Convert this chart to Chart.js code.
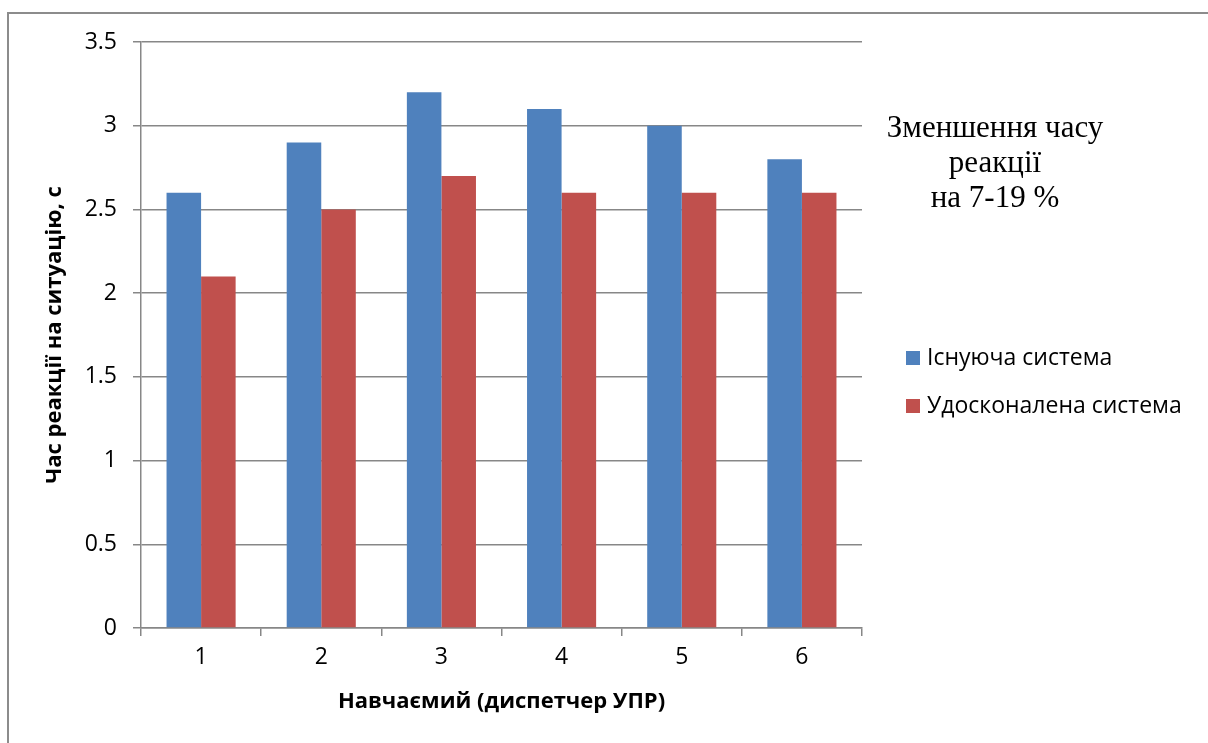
<!DOCTYPE html>
<html>
<head>
<meta charset="utf-8">
<script src="https://cdn.jsdelivr.net/npm/chart.js@4"></script>
<style>
  html, body { margin: 0; padding: 0; background: #fff; overflow: hidden; }
  #wrap { position: relative; width: 1208px; height: 743px; }
  #frame { position: absolute; left: 7px; top: 12px; width: 1300px; height: 900px; border: 2px solid #8c8c8c; box-sizing: border-box; pointer-events: none; }
  canvas { position: absolute; left: 0; top: 0; }
</style>
</head>
<body>
<div id="wrap">
  <div id="frame"></div>
  <canvas id="chart" width="1208" height="743"></canvas>
</div>
<script>
// Trainee numbers along the x axis
const trainees = ['1', '2', '3', '4', '5', '6'];
// Reaction time to a situation, seconds
const existingSystem = [2.6, 2.9, 3.2, 3.1, 3.0, 2.8];
const improvedSystem = [2.1, 2.5, 2.7, 2.6, 2.6, 2.6];
const seriesNames = ['Існуюча система', 'Удосконалена система'];
const noteLines = ['Зменшення часу', 'реакції', 'на 7-19 %'];

const sansFont = "'Open Sans', 'Noto Sans', sans-serif";
const gridGray = '#878787';

// Legend and side note drawn to the right of the plot
const sidePanel = {
  id: 'sidePanel',
  afterDraw(chart) {
    const ctx = chart.ctx;
    ctx.save();
    ctx.fillStyle = '#000';
    ctx.textAlign = 'center';
    ctx.textBaseline = 'middle';
    ctx.font = "31px 'Liberation Serif', 'DejaVu Serif', serif";
    noteLines.forEach((t, i) => ctx.fillText(t, 995, 129 + i * 35));

    ctx.textAlign = 'left';
    ctx.font = '23px ' + sansFont;
    chart.data.datasets.forEach((ds, i) => {
      const y = 358 + i * 48;
      ctx.fillStyle = ds.backgroundColor;
      ctx.fillRect(906, y - 7, 14, 14);
      ctx.fillStyle = '#000';
      ctx.fillText(ds.label, 927, y);
    });
    ctx.restore();
  }
};

new Chart(document.getElementById('chart'), {
  type: 'bar',
  data: {
    labels: trainees,
    datasets: [
      { label: seriesNames[0], data: existingSystem, backgroundColor: '#4F81BD' },
      { label: seriesNames[1], data: improvedSystem, backgroundColor: '#C0504D' }
    ]
  },
  options: {
    responsive: false,
    animation: false,
    events: [],
    layout: { padding: { left: 0, top: 42, right: 346, bottom: 0 } },
    datasets: { bar: { categoryPercentage: 0.575, barPercentage: 1.0 } },
    plugins: { legend: { display: false }, tooltip: { enabled: false } },
    scales: {
      x: {
        grid: { drawOnChartArea: false, drawTicks: true, tickLength: 8, color: gridGray, lineWidth: 1.5 },
        border: { color: gridGray, width: 1.5 },
        ticks: { color: '#000', font: { family: sansFont, size: 23 }, padding: 8 },
        title: { display: true, text: 'Навчаємий (диспетчер УПР)', color: '#000',
                 font: { family: sansFont, size: 22, weight: 'bold' }, padding: { top: 0, bottom: 28 } },
        afterFit(scale) { scale.height = 115; }
      },
      y: {
        min: 0, max: 3.5,
        grid: { color: gridGray, lineWidth: 1.5, tickLength: 8 },
        border: { color: gridGray, width: 1.5 },
        ticks: { stepSize: 0.5, color: '#000', font: { family: sansFont, size: 23 }, padding: 16,
                 callback: (v) => String(v) },
        title: { display: true, text: 'Час реакції на ситуацію, с', color: '#000',
                 font: { family: sansFont, size: 22, weight: 'bold' }, padding: { top: 42, bottom: 0 } },
        afterFit(scale) { scale.width = 141; }
      }
    }
  },
  plugins: [sidePanel]
});
</script>
</body>
</html>
